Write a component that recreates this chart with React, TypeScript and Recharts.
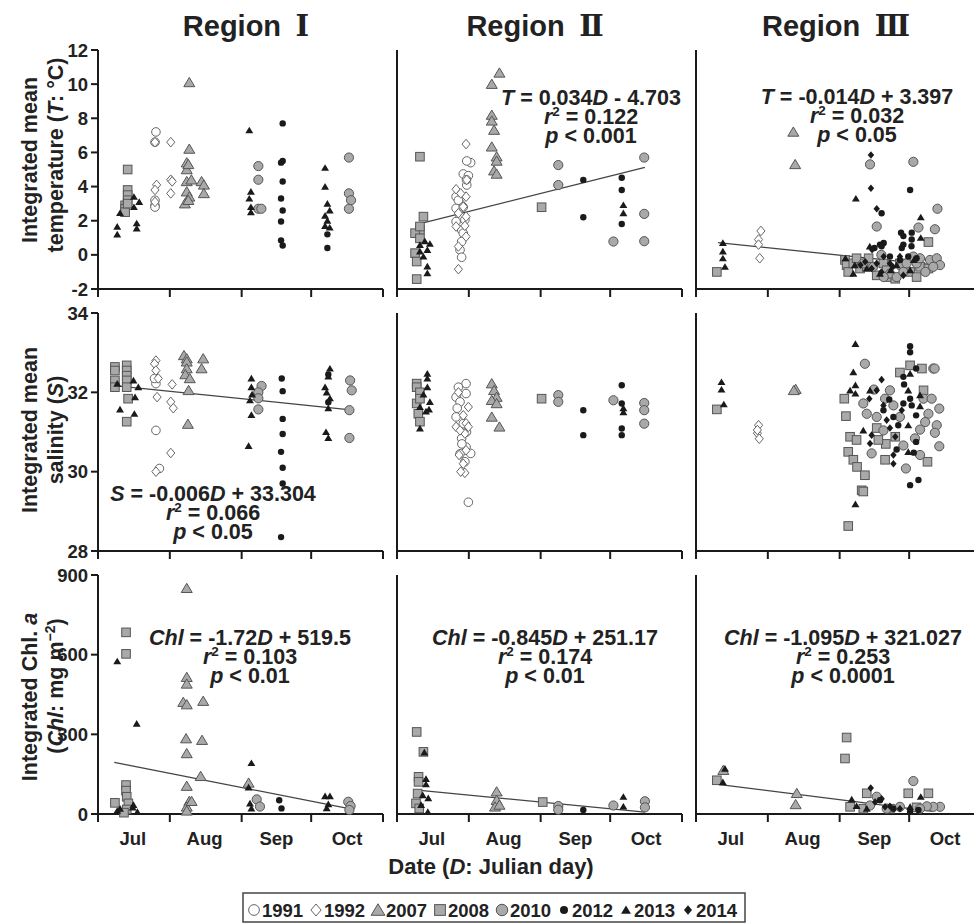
import React from 'react'
import { ScatterChart, Scatter, XAxis, YAxis, ReferenceLine } from 'recharts'

// [year, Julian day, value]
type Pt = [number, number, number]

const years = [1991, 1992, 2007, 2008, 2010, 2012, 2013, 2014]
const drawOrder = [1991, 1992, 2008, 2010, 2007, 2012, 2013, 2014]
const months = ['Jul', 'Aug', 'Sep', 'Oct']
const monthMid = [197, 228, 259, 289.5]
const monthEdge = [182, 213, 244, 274, 305]
const tempTicks = [-2, 0, 2, 4, 6, 8, 10, 12]
const salTicks = [28, 30, 32, 34]
const chlTicks = [0, 300, 600, 900]

const tempR1: Pt[] = [
  [2008, 193.7, 2.9], [2008, 193.7, 2.7], [2008, 193.7, 2.5], [2008, 194.8, 5.0], [2008, 194.8, 3.8],
  [2008, 194.8, 3.5], [2008, 194.8, 3.2], [2008, 194.8, 3.0],
  [2013, 190.3, 1.65], [2013, 190.3, 1.2], [2013, 191.5, 2.45], [2013, 197.5, 3.4], [2013, 197.5, 2.8],
  [2013, 199.8, 3.1], [2013, 198.7, 1.85], [2013, 198.7, 1.55],
  [1991, 207, 7.2], [1991, 206.6, 6.6], [1991, 206.6, 3.2], [1991, 206.6, 2.9], [1991, 206.6, 2.8],
  [1992, 206.6, 6.6], [1992, 213.4, 6.6], [1992, 207.3, 4.1], [1992, 206.6, 3.8], [1992, 206.6, 3.1],
  [1992, 213.4, 4.4], [1992, 214, 4.3], [1992, 213.4, 3.6],
  [2007, 221.4, 10.1], [2007, 221.4, 6.2], [2007, 220.3, 5.4], [2007, 220.3, 5.0], [2007, 220.3, 4.3],
  [2007, 220.3, 3.7], [2007, 221.4, 3.4], [2007, 219.5, 3.0], [2007, 222.3, 4.4], [2007, 221, 5.3],
  [2007, 226.7, 4.3], [2007, 227.7, 4.1], [2007, 227.7, 3.6], [2007, 221, 3.2],
  [2013, 247.3, 7.3], [2013, 248, 3.7], [2013, 247.3, 3.3], [2013, 248, 2.8], [2013, 248, 2.5],
  [2010, 251.2, 5.2], [2010, 251.2, 4.4], [2010, 251.2, 2.7], [2010, 252.5, 2.7],
  [2012, 261.7, 7.7], [2012, 261.7, 5.5], [2012, 261, 5.4], [2012, 261.7, 4.3], [2012, 261, 3.3],
  [2012, 261.7, 2.6], [2012, 261, 1.95], [2012, 261, 0.85], [2012, 261.7, 0.55],
  [2013, 280, 5.1], [2013, 280, 4.0], [2013, 281, 3.0], [2013, 282, 2.6], [2013, 280, 2.3],
  [2013, 281, 2.0], [2013, 280, 1.7], [2013, 282, 1.6],
  [2012, 281, 1.2], [2012, 281, 0.4],
  [2010, 290.3, 5.7], [2010, 290.3, 3.6], [2010, 291.2, 3.2], [2010, 290.3, 2.7],
]

const tempR2: Pt[] = [
  [2008, 191.9, 5.75], [2008, 193.4, 2.24], [2008, 191.9, 1.46], [2008, 189.8, 1.27], [2008, 191.9, 0.97],
  [2008, 189.8, 0.1], [2008, 190.5, -0.39], [2008, 190.5, -1.42], [2008, 191.9, 1.66],
  [2013, 191.9, 0.58], [2013, 196.2, 0.65], [2013, 195.1, 0.29], [2013, 193.4, -0.1], [2013, 195.1, -0.68],
  [2013, 195.1, -1.07], [2013, 191.9, 0.2], [2013, 194, 0.8],
  [1991, 213.8, 5.4], [1991, 212.1, 5.5], [1991, 210.6, 4.74], [1991, 212.8, 4.64], [1991, 212.1, 4.09],
  [1991, 207.5, 3.41], [1991, 209.2, 3.02], [1991, 207.5, 2.73], [1991, 210.6, 2.8], [1991, 209.2, 2.24],
  [1991, 207.5, 1.95], [1991, 211.3, 2.05], [1991, 209.9, 1.46], [1991, 210.6, 1.27], [1991, 209.9, 0.78],
  [1991, 209.2, 0.29], [1991, 209.9, -0.14], [1991, 212, 4.4], [1991, 208.5, 3.2],
  [1992, 211.8, 6.49], [1992, 207.5, 3.84], [1992, 211.8, 3.41], [1992, 210.6, 2.82], [1992, 208.5, 2.44],
  [1992, 211.8, 2.24], [1992, 207.5, 1.66], [1992, 211.8, 1.07], [1992, 208.5, 0.49], [1992, 208.5, -0.84],
  [1992, 212.1, 4.39], [1992, 209.5, 3.6], [1992, 211.3, 1.7],
  [2007, 226.2, 10.66], [2007, 222.9, 10.0], [2007, 222.9, 8.19], [2007, 222.9, 7.85], [2007, 223.9, 7.31],
  [2007, 222.9, 6.33], [2007, 225, 5.75], [2007, 225, 5.5], [2007, 223.9, 4.93], [2007, 225, 4.74],
  [2008, 244.4, 2.79],
  [2010, 251.6, 5.26], [2010, 251.6, 4.09],
  [2012, 262.4, 4.39], [2012, 262.4, 2.2],
  [2012, 279, 4.52], [2012, 279, 3.8], [2012, 279, 1.81],
  [2013, 279.7, 2.92], [2013, 279.7, 2.44],
  [2010, 275.4, 0.78], [2010, 288.7, 5.7], [2010, 288.7, 2.4], [2010, 288.7, 0.8],
]

const tempR3: Pt[] = [
  [2008, 191, -1.0],
  [2013, 193.6, 0.7], [2013, 193.6, 0.2], [2013, 193.6, -0.2], [2013, 194.5, -0.7],
  [1992, 210, 1.4], [1992, 209, 0.9], [1992, 209, 0.6], [1992, 209.5, -0.2],
  [2007, 224, 7.2], [2007, 224.8, 5.3],
  [2008, 246.3, -0.3], [2008, 247, -0.6], [2008, 247.7, -1.0], [2008, 249.9, -0.5], [2008, 251.3, -0.2],
  [2008, 252.8, -0.8], [2008, 255.7, -0.7], [2008, 256.5, -0.2], [2008, 262.9, -0.5], [2008, 264.3, -0.9],
  [2008, 265.7, -1.3], [2008, 270, -0.5], [2008, 274.4, -1.0], [2008, 277.2, -1.3], [2008, 278.7, -0.7],
  [2008, 282.3, -0.8], [2008, 282.3, 0.75], [2008, 268, -1.4], [2008, 260, -1.2],
  [2010, 254.2, -0.5], [2010, 258.5, -0.7], [2010, 265.7, -1.1], [2010, 268.6, -1.3], [2010, 270.8, -0.7],
  [2010, 272.9, -0.5], [2010, 277.2, -0.5], [2010, 283, -0.3], [2010, 285.9, -0.2], [2010, 287.3, -0.6],
  [2010, 284.4, -0.7], [2010, 278.7, -0.2], [2010, 275.8, -0.1], [2010, 271.5, -1.0], [2010, 257.1, 5.3],
  [2010, 260, 1.66], [2010, 275.8, 5.45], [2010, 286.2, 2.7], [2010, 285.1, 1.5], [2010, 278, 1.6],
  [2010, 262, 0.0], [2010, 281, -1.0], [2010, 263, -1.3],
  [2012, 270, -0.3], [2012, 273.6, -0.1], [2012, 277.2, -0.2], [2012, 265.7, -0.1], [2012, 270.8, 0.4],
  [2012, 262.1, 0.5], [2012, 261.4, 0.6], [2012, 274.4, 3.8], [2012, 262.1, 2.44], [2012, 271.5, 1.1],
  [2012, 275.1, 1.3], [2012, 275.1, 0.9], [2012, 271.5, 0.6], [2012, 259, 0.4], [2012, 263, 0.7],
  [2012, 270.5, 1.3], [2012, 275, 0.5],
  [2013, 249.9, -1.1], [2013, 250.5, -0.6], [2013, 255.7, -0.8], [2013, 261.4, -1.1], [2013, 268.6, -0.6],
  [2013, 274.4, -0.9], [2013, 251, 3.3], [2013, 279, 2.2], [2013, 279, 1.0], [2013, 257, 0.5],
  [2013, 276, -0.3], [2013, 246.5, -0.2], [2013, 266, -0.9],
  [2014, 253, -0.6], [2014, 257.8, -0.8], [2014, 260, -0.5], [2014, 263, -0.1], [2014, 265.7, -0.5],
  [2014, 270, -0.1], [2014, 267, -0.7], [2014, 271.5, -1.2], [2014, 257.5, 5.85], [2014, 257.5, 3.9],
  [2014, 260, 2.7], [2014, 258, 0.3], [2014, 255, -0.4], [2014, 262, -1.0],
]

const salR1: Pt[] = [
  [2008, 189.3, 32.64], [2008, 189.3, 32.55], [2008, 189.3, 32.3], [2008, 189.3, 32.13], [2008, 194.4, 32.68],
  [2008, 194.4, 32.55], [2008, 194.4, 32.42], [2008, 194.4, 32.3], [2008, 194.4, 32.13], [2008, 195, 31.84],
  [2008, 194.4, 31.26],
  [2013, 190.3, 32.22], [2013, 191.5, 31.57], [2013, 197.3, 32.3], [2013, 198, 31.88], [2013, 197.7, 31.46],
  [2013, 199.4, 32.13],
  [1991, 207, 32.22], [1991, 206.4, 32.35], [1991, 207, 31.04], [1991, 208.5, 30.08],
  [1992, 207, 32.8], [1992, 206.4, 32.72], [1992, 207, 32.55], [1992, 208, 32.35], [1992, 207.5, 31.88],
  [1992, 207, 30.0], [1992, 214, 32.2], [1992, 213.4, 31.76], [1992, 214.5, 31.6], [1992, 213.4, 30.47],
  [2007, 219.1, 32.93], [2007, 220.3, 32.85], [2007, 220.3, 32.77], [2007, 220.3, 32.6], [2007, 219.7, 32.45],
  [2007, 221.6, 32.35], [2007, 221.1, 32.05], [2007, 220.8, 31.2], [2007, 227.4, 32.85], [2007, 226.7, 32.6],
  [2013, 248.2, 32.35], [2013, 248.2, 32.13], [2013, 247.6, 31.8], [2013, 248.2, 31.43], [2013, 247, 30.65],
  [2013, 248.5, 31.95],
  [2010, 252.6, 32.16], [2010, 251.2, 32.0], [2010, 251.2, 31.85], [2010, 251.2, 31.57],
  [2012, 261.3, 32.35], [2012, 261.7, 32.03], [2012, 261.7, 31.33], [2012, 261.7, 30.95], [2012, 261, 30.5],
  [2012, 261.7, 30.1], [2012, 261.7, 29.7], [2012, 261, 28.35],
  [2013, 282.1, 32.6], [2013, 281.4, 32.4], [2013, 280, 32.13], [2013, 280.7, 32.0], [2013, 282.1, 31.85],
  [2013, 281.4, 31.6], [2013, 280.4, 31.0], [2013, 281.4, 30.85],
  [2012, 281.4, 32.45], [2012, 281.4, 31.75],
  [2010, 290.8, 32.3], [2010, 291.5, 32.05], [2010, 290.5, 31.55], [2010, 290.5, 30.85],
]

const salR2: Pt[] = [
  [2008, 190.5, 32.22], [2008, 190.5, 32.13], [2008, 191.9, 32.0], [2008, 190.5, 31.72], [2008, 191.9, 31.84],
  [2008, 191.2, 31.46], [2008, 191.9, 31.26],
  [2013, 195.1, 32.47], [2013, 195.1, 32.35], [2013, 195.1, 32.13], [2013, 196.2, 31.76], [2013, 193.4, 31.95],
  [2013, 191.9, 31.63], [2013, 194.5, 31.52], [2013, 195.8, 31.57], [2013, 191.9, 31.09],
  [1991, 211.8, 32.22], [1991, 208.5, 32.13], [1991, 211.8, 31.97], [1991, 207.5, 31.88], [1991, 209.2, 31.76],
  [1991, 207.5, 31.38], [1991, 210.6, 31.21], [1991, 209.9, 30.84], [1991, 211.8, 30.62], [1991, 213.8, 30.46],
  [1991, 209.2, 30.45], [1991, 211.3, 30.25], [1991, 212.8, 29.23], [1991, 208, 31.6], [1991, 212, 31.0],
  [1991, 210, 30.7],
  [1992, 208.5, 32.0], [1992, 212.8, 31.63], [1992, 210.6, 31.42], [1992, 211.8, 31.22], [1992, 207.5, 31.13],
  [1992, 212.8, 31.13], [1992, 211.3, 30.96], [1992, 209.2, 31.04], [1992, 211.8, 30.54], [1992, 208.8, 30.42],
  [1992, 210.6, 30.2], [1992, 211.3, 29.97], [1992, 209.5, 30.0],
  [2007, 222.9, 32.22], [2007, 223.9, 32.05], [2007, 225, 31.88], [2007, 222.9, 31.8], [2007, 225, 31.72],
  [2007, 222.9, 31.38], [2007, 226.2, 31.13],
  [2008, 244.4, 31.84],
  [2010, 251.6, 31.93], [2010, 251.6, 31.76],
  [2012, 262.4, 31.55], [2012, 262.4, 30.92],
  [2010, 275.4, 31.8], [2010, 288.7, 31.73], [2010, 288.7, 31.55], [2010, 288.7, 31.21],
  [2012, 279, 32.18], [2012, 279, 31.72], [2012, 279, 31.09], [2012, 279, 30.92],
  [2013, 279.7, 31.6], [2013, 279.7, 31.5],
]

const salR3: Pt[] = [
  [2013, 193, 32.26], [2013, 193, 32.07], [2013, 194, 31.7],
  [2008, 191, 31.57],
  [1992, 209, 31.17], [1992, 208.5, 30.97], [1992, 209.3, 30.83], [1992, 208.5, 31.05],
  [2007, 225, 32.08], [2007, 224.2, 32.05],
  [2008, 246, 31.84], [2008, 246.7, 31.4], [2008, 248.5, 30.88], [2008, 251.3, 30.8], [2008, 247.7, 30.5],
  [2008, 249.9, 30.3], [2008, 251.5, 30.12], [2008, 254.9, 29.91], [2008, 253.5, 29.53], [2008, 254.2, 29.5],
  [2008, 247.7, 28.63], [2008, 260, 31.1], [2008, 263.6, 30.3], [2008, 270, 32.5], [2008, 274.4, 32.68],
  [2008, 279.5, 32.6], [2008, 280.2, 32.05], [2008, 281.9, 30.25], [2008, 263.9, 30.7], [2008, 268, 30.88],
  [2008, 260.7, 30.8],
  [2010, 254.9, 32.72], [2010, 284.4, 32.6], [2010, 285, 32.6], [2010, 258.8, 32.07], [2010, 254.2, 31.72],
  [2010, 255.7, 31.46], [2010, 257.8, 30.46], [2010, 265.7, 32.05], [2010, 263.6, 31.84], [2010, 267.2, 31.67],
  [2010, 280.2, 31.84], [2010, 283.7, 31.84], [2010, 287, 31.59], [2010, 282.3, 31.46], [2010, 280.9, 31.25],
  [2010, 278.7, 31.06], [2010, 285.9, 31.17], [2010, 285.1, 30.98], [2010, 287, 30.64], [2010, 276.5, 30.84],
  [2010, 272.6, 30.08], [2010, 278.7, 30.42], [2010, 271.5, 30.66], [2010, 262.9, 31.04], [2010, 260, 31.38],
  [2010, 270, 31.38],
  [2012, 274.4, 33.16], [2012, 274.4, 33.01], [2012, 271.5, 32.39], [2012, 271.8, 32.2], [2012, 277, 32.6],
  [2012, 274.4, 31.84], [2012, 275.1, 31.67], [2012, 271.5, 31.72], [2012, 265.4, 31.82], [2012, 267.2, 31.38],
  [2012, 269.3, 31.17], [2012, 268.6, 30.56], [2012, 277, 31.42], [2012, 277, 30.75], [2012, 276, 30.48],
  [2012, 274.4, 29.66], [2012, 278, 29.79], [2012, 262.9, 31.55],
  [2013, 250.8, 33.22], [2013, 249.9, 32.51], [2013, 250.8, 32.18], [2013, 248.5, 32.05], [2013, 250.8, 31.97],
  [2013, 257.1, 32.05], [2013, 254.2, 31.04], [2013, 250.8, 29.18], [2013, 273.6, 32.05], [2013, 274.4, 32.47],
  [2013, 278.7, 31.93], [2013, 278.7, 31.65], [2013, 273.6, 31.17], [2013, 273.6, 30.5],
  [2014, 262.1, 32.32], [2014, 260, 32.05], [2014, 256.8, 31.84], [2014, 262.9, 31.67], [2014, 264.3, 31.3],
  [2014, 257.8, 30.92], [2014, 257.1, 30.71], [2014, 265.7, 31.1], [2014, 267.2, 30.42], [2014, 267.2, 30.2],
  [2014, 270.8, 31.55], [2014, 268, 30.88],
]

const chlR1: Pt[] = [
  [2008, 194.1, 684], [2008, 194.1, 603], [2008, 194.1, 109], [2008, 194.1, 88], [2008, 194.4, 65],
  [2008, 189.3, 42], [2008, 195.1, 40], [2008, 194.4, 17], [2008, 193.2, 5],
  [2013, 190.3, 575], [2013, 198.7, 340], [2013, 190.3, 12], [2013, 197.3, 34], [2013, 199, 8],
  [2013, 191.5, 20], [2013, 197, 25],
  [2007, 220.3, 850], [2007, 220.3, 515], [2007, 220.3, 490], [2007, 218.8, 421], [2007, 220.3, 412],
  [2007, 220, 284], [2007, 220.3, 228], [2007, 220.3, 105], [2007, 221.4, 48], [2007, 220.3, 27],
  [2007, 220.3, 12], [2007, 227.4, 425], [2007, 226.9, 278], [2007, 226.3, 142], [2007, 222.4, 48],
  [2013, 248.2, 192], [2013, 247, 100], [2013, 247.6, 40], [2013, 248.2, 21], [2007, 247, 117],
  [2010, 250.5, 55], [2010, 251.9, 28],
  [2012, 260.2, 52], [2012, 261.2, 21],
  [2013, 282.1, 67], [2013, 280, 67], [2013, 281.4, 37], [2013, 280.7, 22],
  [2010, 290, 46], [2010, 291, 30], [2010, 290.5, 15],
]

const chlR2: Pt[] = [
  [2008, 190.5, 309], [2008, 193.4, 234], [2008, 191.3, 140], [2008, 191.3, 121], [2008, 190.9, 77],
  [2008, 190.2, 40], [2008, 191.6, 21],
  [2013, 193.8, 232], [2013, 194.5, 132], [2013, 194.5, 112], [2013, 193.1, 71], [2013, 195.5, 60],
  [2013, 192.4, 34], [2013, 195.3, 8],
  [2007, 225, 84], [2007, 225, 52], [2007, 224.3, 27], [2007, 226.2, 34],
  [2008, 244.9, 45],
  [2010, 251.6, 30], [2010, 251.6, 16],
  [2012, 262.4, 15],
  [2010, 275.4, 32], [2010, 289, 48], [2010, 289, 25],
  [2013, 279.7, 65], [2013, 279.7, 28],
]

const chlR3: Pt[] = [
  [2008, 191, 127],
  [2013, 194.5, 171], [2013, 193.6, 120],
  [2007, 193.8, 165], [2007, 225.5, 78], [2007, 225, 36],
  [2008, 247, 288], [2008, 246.3, 209], [2008, 255.7, 78], [2008, 273.6, 78], [2008, 282.3, 78],
  [2008, 248.5, 27], [2008, 254.2, 20], [2008, 265.7, 20], [2008, 277.2, 25],
  [2010, 275.8, 124], [2010, 260, 65], [2010, 287.3, 27], [2010, 284.4, 27], [2010, 281.6, 29],
  [2010, 278.7, 20], [2010, 270, 27], [2010, 264.3, 20], [2010, 257.1, 32],
  [2012, 261.4, 52], [2012, 278, 15], [2012, 274.4, 9], [2012, 267.2, 20],
  [2013, 249.2, 55], [2013, 251.3, 30], [2013, 279, 65], [2013, 274.4, 27], [2013, 255.7, 20],
  [2014, 257.4, 98], [2014, 262.1, 57], [2014, 259.3, 45], [2014, 265.7, 29], [2014, 270, 20], [2014, 263.6, 27],
]

// linear fits printed on the panels: value = slope * D + intercept
const fits = {
  tempR2: { sym: 'T', slope: 0.034, intercept: -4.703, r2: '0.122', p: '0.001', from: 192, to: 289 },
  tempR3: { sym: 'T', slope: -0.014, intercept: 3.397, r2: '0.032', p: '0.05', from: 191.5, to: 288 },
  salR1: { sym: 'S', slope: -0.006, intercept: 33.304, r2: '0.066', p: '0.05', from: 189, to: 292 },
  chlR1: { sym: 'Chl', slope: -1.72, intercept: 519.5, r2: '0.103', p: '0.01', from: 189, to: 292 },
  chlR2: { sym: 'Chl', slope: -0.845, intercept: 251.17, r2: '0.174', p: '0.01', from: 192, to: 289 },
  chlR3: { sym: 'Chl', slope: -1.095, intercept: 321.027, r2: '0.253', p: '0.0001', from: 191.5, to: 284 },
}
type Fit = (typeof fits)[keyof typeof fits]

const FONT = '"Liberation Sans", Arial, Helvetica, sans-serif'
const COL_LEFT = [98, 397, 696]
const ROW_TOP = [50, 313, 575]
const ROW_BOTTOM = [289, 551, 814]
const PLOT_W = 285
const Y_W = 60
const PAD_T = 10
const PAD_R = 12
const GRAY = '#a9a9a9'
const EDGE = '#555'
const INK = '#1a1a1a'

function Marker({ cx, cy, year, k = 1 }: { cx: number; cy: number; year: number; k?: number }) {
  if (cx == null || cy == null) return null
  const tri = (s: number) => `M${cx},${cy - s}L${cx + s * 1.1},${cy + s * 0.85}L${cx - s * 1.1},${cy + s * 0.85}Z`
  const dia = (s: number) => `M${cx},${cy - s}L${cx + s * 0.85},${cy}L${cx},${cy + s}L${cx - s * 0.85},${cy}Z`
  switch (year) {
    case 1991:
      return <circle cx={cx} cy={cy} r={4.3 * k} fill="#fff" stroke="#666" strokeWidth={1} />
    case 1992:
      return <path d={dia(4.8 * k)} fill="#fff" stroke="#666" strokeWidth={1} />
    case 2007:
      return <path d={tri(5 * k)} fill={GRAY} stroke={EDGE} strokeWidth={1} />
    case 2008: {
      const s = 4.3 * k
      return <rect x={cx - s} y={cy - s} width={2 * s} height={2 * s} fill={GRAY} stroke={EDGE} strokeWidth={1} />
    }
    case 2010:
      return <circle cx={cx} cy={cy} r={4.6 * k} fill={GRAY} stroke={EDGE} strokeWidth={1} />
    case 2012:
      return <circle cx={cx} cy={cy} r={3.2 * k} fill={INK} />
    case 2013:
      return <path d={tri(3.6 * k)} fill={INK} />
    default:
      return <path d={dia(3.8 * k)} fill={INK} />
  }
}

const tickText = { fontSize: 18.5, fontWeight: 700, fill: '#222', fontFamily: FONT }
const axisStroke = { stroke: INK, strokeWidth: 2 }

// month boundaries get a tick mark, month middles get the month name
function DateTick({ x, y, payload, showLabel }: { x: number; y: number; payload: { value: number }; showLabel: boolean }) {
  const v = payload.value
  const edge = monthEdge.indexOf(v)
  if (edge >= 0) return <line x1={x} y1={y} x2={x} y2={y + 8} stroke={INK} strokeWidth={2} />
  if (!showLabel) return null
  return (
    <text x={x} y={y + 31} textAnchor="middle" {...tickText}>
      {months[monthMid.indexOf(v)]}
    </text>
  )
}

function Panel({ row, col, data, domain, ticks, fit }: {
  row: number; col: number; data: Pt[]; domain: [number, number]; ticks: number[]; fit?: Fit
}) {
  const plotH = ROW_BOTTOM[row] - ROW_TOP[row]
  const bottom = row === 2
  const axisH = bottom ? 42 : 10
  const height = PAD_T + plotH + axisH
  return (
    <div style={{ position: 'absolute', left: COL_LEFT[col] - Y_W, top: ROW_TOP[row] - PAD_T }}>
      <ScatterChart
        width={Y_W + PLOT_W + PAD_R}
        height={height}
        margin={{ top: PAD_T, right: PAD_R, left: 0, bottom: 0 }}
      >
        <XAxis
          dataKey="day"
          type="number"
          domain={[182, 305]}
          ticks={bottom ? [...monthEdge, ...monthMid] : monthEdge}
          interval={0}
          tickLine={false}
          tickSize={0}
          tickMargin={0}
          height={axisH}
          axisLine={axisStroke}
          tick={(p: any) => <DateTick x={p.x} y={p.y} payload={p.payload} showLabel={bottom} />}
        />
        <YAxis
          dataKey="v"
          type="number"
          domain={domain}
          ticks={ticks}
          interval={0}
          width={Y_W}
          tickSize={7}
          tickMargin={3}
          tick={col === 0 ? tickText : false}
          axisLine={axisStroke}
          tickLine={axisStroke}
        />
        {fit && (
          <ReferenceLine
            segment={[
              { x: fit.from, y: fit.slope * fit.from + fit.intercept },
              { x: fit.to, y: fit.slope * fit.to + fit.intercept },
            ]}
            stroke="#444"
            strokeWidth={1.3}
            ifOverflow="visible"
          />
        )}
        {drawOrder.map((y) => (
          <Scatter
            key={y}
            name={String(y)}
            data={data.filter((p) => p[0] === y).map((p) => ({ day: p[1], v: p[2] }))}
            isAnimationActive={false}
            shape={(p: any) => <Marker cx={p.cx} cy={p.cy} year={y} />}
          />
        ))}
      </ScatterChart>
    </div>
  )
}

function Equation({ fit, cx, y }: { fit: Fit; cx: number; y: number }) {
  const sign = fit.intercept < 0 ? '-' : '+'
  const lh = 19
  return (
    <text textAnchor="middle" fontFamily={FONT} fontWeight={700} fontSize={21.5} fill="#222">
      <tspan x={cx} y={y}>
        <tspan fontStyle="italic">{fit.sym}</tspan> = {fit.slope}
        <tspan fontStyle="italic">D</tspan> {sign} {Math.abs(fit.intercept)}
      </tspan>
      <tspan x={cx} y={y + lh}>
        <tspan fontStyle="italic">r</tspan>
        <tspan dy={-8} fontSize={13.5}>2</tspan>
        <tspan dy={8}> = {fit.r2}</tspan>
      </tspan>
      <tspan x={cx} y={y + 2 * lh}>
        <tspan fontStyle="italic">p</tspan> &lt; {fit.p}
      </tspan>
    </text>
  )
}

function YTitle({ y1, y2, children1, children2 }: { y1: number; y2: number; children1: React.ReactNode; children2: React.ReactNode }) {
  const common = { textAnchor: 'middle' as const, fontFamily: FONT, fontWeight: 700, fontSize: 21.5, fill: '#222' }
  return (
    <g>
      <text {...common} transform={`translate(37,${y1}) rotate(-90)`}>{children1}</text>
      <text {...common} transform={`translate(63,${y2}) rotate(-90)`}>{children2}</text>
    </g>
  )
}

const regionNum = ['Ⅰ', 'Ⅱ', 'Ⅲ']
const titleX = [246, 535, 836]

function Legend() {
  const x0 = 254
  const step = 62
  return (
    <g>
      <rect x={243} y={893} width={502} height={29} fill="#fff" stroke="#444" strokeWidth={1.5} />
      {years.map((y, i) => (
        <g key={y}>
          <Marker cx={x0 + i * step} cy={910} year={y} k={1.25} />
          <text x={x0 + i * step + 8} y={917} fontFamily={FONT} fontWeight={700} fontSize={18.5} fill="#222">
            {y}
          </text>
        </g>
      ))}
    </g>
  )
}

export default function App() {
  return (
    <div style={{ position: 'absolute', left: 0, top: 0, width: 974, height: 923, overflow: 'hidden', background: '#fff' }}>
      <Panel row={0} col={0} data={tempR1} domain={[-2, 12]} ticks={tempTicks} />
      <Panel row={0} col={1} data={tempR2} domain={[-2, 12]} ticks={tempTicks} fit={fits.tempR2} />
      <Panel row={0} col={2} data={tempR3} domain={[-2, 12]} ticks={tempTicks} fit={fits.tempR3} />
      <Panel row={1} col={0} data={salR1} domain={[28, 34]} ticks={salTicks} fit={fits.salR1} />
      <Panel row={1} col={1} data={salR2} domain={[28, 34]} ticks={salTicks} />
      <Panel row={1} col={2} data={salR3} domain={[28, 34]} ticks={salTicks} />
      <Panel row={2} col={0} data={chlR1} domain={[0, 900]} ticks={chlTicks} fit={fits.chlR1} />
      <Panel row={2} col={1} data={chlR2} domain={[0, 900]} ticks={chlTicks} fit={fits.chlR2} />
      <Panel row={2} col={2} data={chlR3} domain={[0, 900]} ticks={chlTicks} fit={fits.chlR3} />

      <svg width={974} height={923} style={{ position: 'absolute', left: 0, top: 0, pointerEvents: 'none' }}>
        {regionNum.map((n, i) => (
          <text key={n} x={titleX[i]} y={36} textAnchor="middle" fontFamily={FONT} fontWeight={700} fontSize={29} fill="#222">
            Region{'\u2002'}
            <tspan fontFamily='"DejaVu Serif", "Noto Sans CJK JP", serif' fontWeight={700}>{n}</tspan>
          </text>
        ))}

        <YTitle
          y1={160}
          y2={155}
          children1={<>Integrated mean</>}
          children2={<>temperature (<tspan fontStyle="italic">T</tspan>: °C)</>}
        />
        <YTitle
          y1={430}
          y2={430}
          children1={<>Integrated mean</>}
          children2={<>salinity (<tspan fontStyle="italic">S</tspan>)</>}
        />
        <YTitle
          y1={697}
          y2={686}
          children1={<>Integrated Chl. <tspan fontStyle="italic">a</tspan></>}
          children2={
            <>
              (<tspan fontStyle="italic">Chl</tspan>: mg m<tspan dy={-8} fontSize={14}>−2</tspan>
              <tspan dy={8}>)</tspan>
            </>
          }
        />

        <Equation fit={fits.tempR2} cx={591} y={105} />
        <Equation fit={fits.tempR3} cx={857} y={104} />
        <Equation fit={fits.salR1} cx={213} y={501} />
        <Equation fit={fits.chlR1} cx={250} y={645} />
        <Equation fit={fits.chlR2} cx={545} y={645} />
        <Equation fit={fits.chlR3} cx={843} y={645} />

        <text x={491} y={874} textAnchor="middle" fontFamily={FONT} fontWeight={700} fontSize={22} fill="#222">
          Date (<tspan fontStyle="italic">D</tspan>: Julian day)
        </text>

        <Legend />
      </svg>
    </div>
  )
}
